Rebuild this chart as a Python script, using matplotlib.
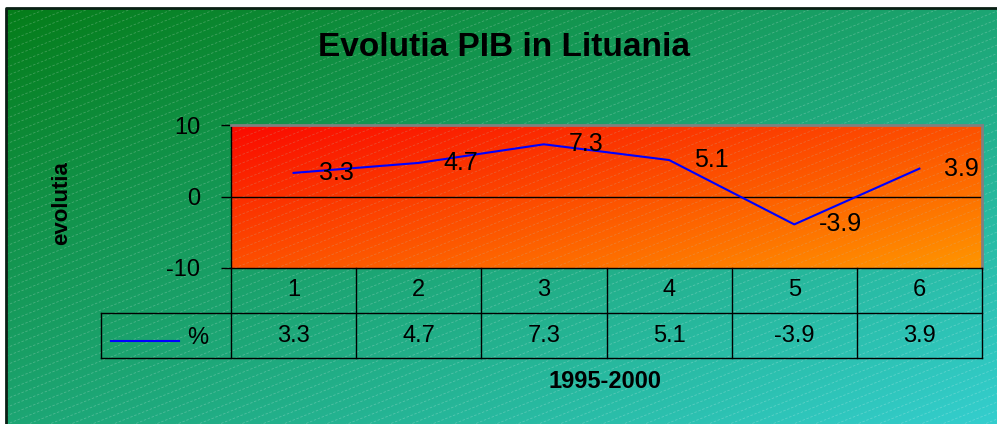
import numpy as np
import matplotlib
matplotlib.use('Agg')
import matplotlib.pyplot as plt
from matplotlib.collections import LineCollection

plt.rcParams['font.family'] = ['Liberation Sans', 'DejaVu Sans']

# date
categories = [1, 2, 3, 4, 5, 6]
values = [3.3, 4.7, 7.3, 5.1, -3.9, 3.9]
value_labels = ['3.3', '4.7', '7.3', '5.1', '-3.9', '3.9']
series_name = '%'
y_ticks = [-10, 0, 10]
title = 'Evolutia PIB in Lituania'
x_title = '1995-2000'
y_title = 'evolutia'

W, H = 997, 424
fig = plt.figure(figsize=(W / 100, H / 100), dpi=100)


def grad(c0, c1, n=200):
    # gradient diagonal: colt stanga sus -> colt dreapta jos
    u = np.linspace(0, 1, n)
    uu, vv = np.meshgrid(u, u)
    t = (uu + vv) / 2
    c0 = np.array(c0) / 255
    c1 = np.array(c1) / 255
    return c0[None, None, :] * (1 - t[..., None]) + c1[None, None, :] * t[..., None]


def hatch_segs(x0, x1, y0, y1, step=8.5, slope=0.4):
    segs = []
    for b in np.arange(y0, y1 + slope * (x1 - x0) + step, step):
        segs.append([(x0, b), (x1, b - slope * (x1 - x0))])
    return segs


# fundal
bg = fig.add_axes([0, 0, 1, 1])
bg.set_xlim(0, W)
bg.set_ylim(H, 0)
bg.axis('off')
bg.imshow(grad((5, 125, 25), (52, 206, 206)), extent=(6, W, H, 8), aspect='auto', zorder=0)
lc = LineCollection(hatch_segs(6, W, 8, H), colors='white', alpha=0.22, linewidths=0.6,
                    linestyles=(0, (3, 2)), zorder=1)
rect = plt.Rectangle((6, 8), W - 6, H - 8, transform=bg.transData)
lc.set_clip_path(rect)
bg.add_collection(lc)
bg.plot([6, 6, W], [H, 8, 8], color='#0a1f14', lw=2, zorder=2)

# zona grafic
px_l, px_r, px_t, px_b = 231, 982, 125, 268
ax = fig.add_axes([px_l / W, 1 - px_b / H, (px_r - px_l) / W, (px_b - px_t) / H])
ax.set_facecolor('none')
ax.set_xlim(0.5, 6.5)
ax.set_ylim(-10, 10)
ax.imshow(grad((250, 10, 0), (255, 150, 0)), extent=(0.5, 6.5, -10, 10), aspect='auto', zorder=0)
lc2 = LineCollection(hatch_segs(px_l, px_r, px_t, px_b), colors='#c8b8a0', alpha=0.28,
                     linewidths=0.6, linestyles=(0, (3, 2)), transform=bg.transData, zorder=1)
ax.add_collection(lc2)
ax.axhline(0, color='black', lw=1, zorder=2)
ax.plot(categories, values, color='#0000ff', lw=1.5, zorder=3)
for x, v, s in zip(categories, values, value_labels):
    ax.annotate(s, (x, v), xytext=(18, 0), textcoords='offset points',
                ha='left', va='center', fontsize=18, zorder=4)

ax.set_xticks([])
ax.set_yticks(y_ticks)
ax.set_yticklabels([str(t) for t in y_ticks], fontsize=17)
ax.tick_params(axis='y', direction='out', length=7, width=1, pad=15)
for s in ['top', 'right']:
    ax.spines[s].set_color('#808080')
    ax.spines[s].set_linewidth(2)
for s in ['left', 'bottom']:
    ax.spines[s].set_color('black')
    ax.spines[s].set_linewidth(1)

# tabel date
px_tl, px_tb = 101, 358
unit = (px_r - px_l) / 6
xl = 0.5 - (px_l - px_tl) / unit
tab = fig.add_axes([px_tl / W, 1 - px_tb / H, (px_r - px_tl) / W, (px_tb - px_b) / H])
tab.set_xlim(xl, 6.5)
tab.set_ylim(0, 2)
tab.axis('off')
kw = dict(color='black', lw=1, clip_on=False)
tab.plot([xl, 6.5], [0, 0], **kw)
tab.plot([xl, 6.5], [1, 1], **kw)
tab.plot([xl, xl], [0, 1], **kw)
for i in range(7):
    tab.plot([0.5 + i, 0.5 + i], [0, 2], **kw)
for x, s in zip(categories, value_labels):
    tab.text(x, 1.5, str(x), ha='center', va='center', fontsize=17)
    tab.text(x, 0.5, s, ha='center', va='center', fontsize=17)
tab.plot([xl + 0.08, xl + 0.62], [0.38, 0.38], color='#0000ff', lw=1.5)
tab.text(xl + 0.77, 0.45, series_name, ha='center', va='center', fontsize=17)

# titluri
fig.text(504 / W, 1 - 47 / H, title, ha='center', va='center', fontsize=24, fontweight='bold')
fig.text(605 / W, 1 - 382 / H, x_title, ha='center', va='center', fontsize=17, fontweight='bold')
fig.text(62 / W, 1 - 203 / H, y_title, ha='center', va='center', fontsize=16,
         fontweight='bold', rotation=90)

fig.savefig('out.png', dpi=100)
